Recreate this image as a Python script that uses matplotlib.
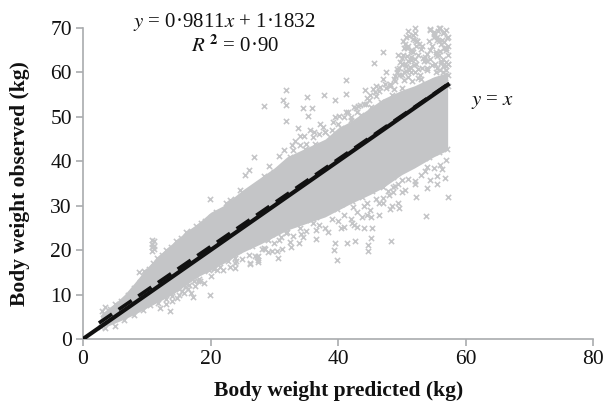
import matplotlib
matplotlib.use("Agg")
import matplotlib.pyplot as plt

plt.rcParams['font.family'] = ['Liberation Serif', 'DejaVu Serif']
plt.rcParams['mathtext.fontset'] = 'stix'

# dense part of the cloud: envelope
core_x  = [2.8, 4, 5, 6.5, 8, 10, 12, 14, 16, 18, 20, 22, 25, 28, 30, 32, 35, 38, 40, 42, 45, 47, 50, 52, 55, 57.2]
core_lo = [2.8, 3, 3.6, 4.5, 5.5, 7, 8.5, 10, 12, 14, 15.5, 17, 19.5, 21.5, 23, 24.5, 26, 27.5, 29, 30.5, 32.5, 34, 37, 38.5, 41, 42.5]
core_hi = [5.5, 7, 8, 10, 12.5, 16, 19, 21.5, 24, 26, 28.5, 30, 33.5, 36.5, 38.5, 41, 43, 45, 47.5, 49, 52, 54, 56, 57, 59, 60]

# individually visible crosses (edges of the cloud and outliers)
pts_x = [28.4,31.8,31.4,31.9,35.2,37.8,34.5,35.9,41.3,41.3,39.5,47.1,45.6,31.9,33.7,35.3,
         57.3,53.8,55.5,54,56,52.3,52.1,53.6,49.5,48.1,49.4,48.6,48.3,45.1,44.7,44.7,42.7,41.4,39.5,39.4,39.9,
         33.9,32.6,31.2,30.6,28.5,29.6,27.3,27.4,26.2,45.3,44,43,42.2,41,45.1,43.7,44.5,42.4,46.5,36.5,34.2,31.8,30.7,29,
         8.8,10.9,10.9,10.9,10.9,11.2,11.2,11.2,19.9,17.2,13.6,26.2,27.5,27.5,28.4,23.8,23.8,21.5,20.6,19.4,21.7,23.9,19.9,
         2.9,3,3.1,3.2,3.3,3,3.4,4.2,5,6,7,8,9,9.5,10.3,11,11.6,12.4,13,13.8,14.6,15.4,16.2,17,17.8,18.5,19.2,20,20.8,21.6,22.4,23,23.8,
         24.6,25.4,26,26.8,27.6,28.4,29.2,30,30.8,31.6,32.4,33.2,34,34.8,35.6,36.4,37.2,38,38.8,39.6,40.4,41.2,42,42.8,43.6,44.4,45.2,46,46.8,47.6,48.2,
         48.8,49.2,49.6,50,50.2,50.6,51,51.4,51.8,52,52.4,53,53.6,54,54.4,55,55.4,55.8,56.2,56.6,57,57.2,57.2,57.2,57.2,
         3.5,5,6.5,8,9.4,10.5,11.8,13,14,15,15.8,16.6,17.4,18.2,19,19.8,20.6,21.4,22,22.8,23.6,24.4,25,25.8,26.5,27.2,28,28.8,29.6,30.4,31,31.8,32.6,33.4,34.2,35,35.8,36.6,37.4,38.2,39,39.8,40.6,41.4,42.2,43,43.8,44.6,45.4,46.2,47,47.8,48.6,49.4,50.2,51,51.8,52.6,53.4,54.2,55,55.8,56.6,57.1,
         50.5,51,51.6,52,54.5,55,55.6,56,56.5,57,50,49.4,48.6,47.8,47,55,55.6,56.3,57,56.8,54.4,54,53.6,14.7,15.6,16.4,17.6,18.4]
pts_y = [52.5,56.1,53.8,52.7,54.4,54.9,52.1,52.1,58.3,55.2,53.8,64.6,62.1,49.1,47.4,50.1,
         32,27.6,35,34,39.2,32,35,37.9,29.4,29.3,30.7,33,22.1,22.7,21.2,19.7,22,21.6,21.6,20.1,17.8,
         21.6,20.6,20.3,18.2,20.3,19.7,18.5,17.4,17,25,25,25.3,26,25.2,27.5,27.5,30.6,29.8,30.7,24.5,23.6,23.8,22.3,22.3,
         15,19.8,20.6,21.4,22.3,20.2,21,22,10,9.5,6.3,16.8,17.8,18.7,20.4,15.9,17.1,16.3,15.8,16.3,19.2,18.3,31.5,
         2.8,3.4,4,4.8,5.6,6.4,7.3,6.8,7.8,8.6,9.8,11.4,12.8,15.3,15.8,17,18.2,18.9,20.1,20.7,22,22.7,24,24.3,25.4,26.2,26.5,27.5,28.6,28.3,30.5,31.2,31.5,
         33.6,37,38,41,34.8,36.6,39,37.5,41.2,42.5,41,44.5,45.8,42.8,47,44,48.5,46.7,45.5,50,47.6,51,49.3,52,50.4,52.8,52.2,54.7,53.4,56.5,57,
         58.6,60.8,59.5,62,64,61.5,66,63.4,68.5,70,67,65.2,63.5,61,69.5,68,64.2,70,66.4,69,65.5,68,62,59.5,57,
         2.4,3,4.2,5.5,6.5,7.6,8.2,8.9,9.7,11.2,10.3,12.2,13,13.4,15.2,15.5,16,17.4,18.2,17.6,19.3,20,20.5,21.5,21,22.2,23.5,22.6,23.7,24.1,25.1,25,26,25.8,26.6,26.8,28.2,27.5,28.2,28.8,29.5,29.2,30.4,31.5,31,32.5,32,33.8,33.4,34.8,34.3,36,36.5,38,38.4,39.2,40.5,40,41.2,41,42.6,42,43.2,42.8,
         66.5,69.4,64.8,67.2,69.8,68.6,67.2,70,68.8,69.6,35.8,35,34.2,33.2,31.8,38.6,36.6,38.2,40.4,36.2,35.8,38.8,40.8,9.3,10.8,11.2,12,13]

# more crosses read from the upper right and the lower flank of the cloud
more_x = [48.5,49,49.5,50,50.5,51,51.5,52,52.5,53,53.5,54,54.5,55,55.5,56,56.5,57,
          48,48.8,49.6,50.4,51.2,52,52.8,53.6,54.4,55.2,56,56.8,57.2,
          49.2,50,50.8,51.6,52.4,53.2,54,54.8,55.6,56.4,57.2,
          50.2,51,51.8,52.6,55.1,55.9,56.7,57.2,50.6,51.4,52.2,55.5,56.3,57,
          44,45,46,47,43,44.5,45.5,46.5,47.5,42,43.5,41,42.5,40,39,38,37,36,35,34,33,
          30,31,32,33,34,35,36,37,38,39,40,41,42,43,44,45,46,47,48,49,50,51,52,53,
          30.5,32.5,34.5,36.5,38.5,40.5,42.5,44.5,46.5,48.5,50.5,
          26,27,28,29,24,25,22,23,15,16,17,18,19,20,21,12,13,14,
          48.2,48.9,49.7,50.3,50.9,51.3,51.7,52.3,52.7,53.1,53.9,54.2,54.7,55.3,55.8,56.2,56.9,57.1,
          49.4,50.1,50.7,51.1,51.9,52.5,53.4,55.4,56.1,56.6,57,50.4,51.5,52.1,55.7,56.4,
          47.4,46.6,45.8,44.8,44.2,43.2,41.6,40.2,39.2,37.6,36.2,34.6,32.8]
more_y = [55,58,61,56.5,62,59,65,60,64,58.5,62.5,60.5,63,58,61,60.5,63,61.5,
          53,56.2,54.5,58.3,60.5,63,59.5,57.5,65,62,64.8,58.8,62,
          60,63.2,65.5,58,67,66,62.5,66,68,60,64,
          67,62.6,64.6,60.8,69,64,66.8,66,68,60,66,63.6,67.4,62.4,
          53,55,57,58.5,51,54.2,56.2,55.8,60,50,52.6,50,52.2,48.5,47,46.5,46.2,45.5,44,43.6,42.5,
          21.5,23,24,23.2,25,24.3,26,25.6,25,27,26.5,28,27,28.5,30,29,31.5,30.5,32.5,34.5,33,36,35.5,37,
          19.8,21.8,23,22.6,24,25,25.6,28,27.8,30,33.5,
          19,18.7,20.2,19.5,17.5,18,15.5,16.2,9.8,11.8,10.4,13,12.6,14.2,15.6,7,7.8,8.5,
          57.4,59.2,62.4,60,63.8,61.2,67.6,62,66.4,61,64.2,67,61.6,64.6,67,62.2,65,67.8,
          64,59.4,60.4,68.2,61.6,58.8,63.2,60.2,62.6,65.4,60.6,65.6,62.8,68.8,69.4,61.4,
          57.4,56.8,55.6,53.8,56,52.4,51,50.2,48.8,47.8,46.6,45.6,43.6]

# fitted line and line of equality
fit_x = [2.5, 57.2]
fit_y = [3.6, 57.3]
eq_x = [0, 57.5]
eq_y = [0, 57.5]

x_ticks = [0, 20, 40, 60, 80]
y_ticks = [0, 10, 20, 30, 40, 50, 60, 70]

GREY = '#a9abae'
CLOUD = '#c4c5c7'

fig = plt.figure(figsize=(6.05, 4.03), dpi=100)
ax = fig.add_axes([83/605, 1-339/403, (593-83)/605, (339-28)/403])
ax.set_xlim(0, 80)
ax.set_ylim(0, 70)

ax.fill_between(core_x, core_lo, core_hi, color=CLOUD, lw=0, zorder=2)
ax.scatter(pts_x + more_x, pts_y + more_y, marker='x', s=14, linewidths=1.15, color=CLOUD, zorder=2, clip_on=False)
ax.plot(fit_x, fit_y, color='#111111', lw=2.6, dashes=(4.4, 2.2), zorder=3, solid_capstyle='butt')
ax.plot(eq_x, eq_y, color='#111111', lw=3.0, zorder=4, solid_capstyle='butt')

for s in ('top', 'right'):
    ax.spines[s].set_visible(False)
for s in ('left', 'bottom'):
    ax.spines[s].set_color(GREY)
    ax.spines[s].set_linewidth(1.2)
ax.set_xticks(x_ticks)
ax.set_yticks(y_ticks)
ax.tick_params(length=5, width=1.2, color=GREY, labelsize=15.5, labelcolor='#111111', pad=3)

fig.text(339/605, 1-396/403, 'Body weight predicted (kg)', ha='center', va='baseline',
         fontweight='bold', fontsize=15.5, color='#111111')
fig.text(20.5/605, 1-184/403, 'Body weight observed (kg)', ha='center', va='center', rotation=90,
         fontweight='bold', fontsize=15.5, color='#111111')
fig.text(224/605, 1-27/403, r'$y$ = 0·9811$x$ + 1·1832', ha='center', va='baseline', fontsize=15, color='#111111')
fig.text(235/605, 1-52/403, r'$R$ $^{\mathbf{2}}$ = 0·90', ha='center', va='baseline', fontsize=15, color='#111111')
fig.text(471/605, 1-105/403, r'$y$ = $x$', ha='left', va='baseline', fontsize=15, color='#111111')

fig.savefig('out.png', dpi=100)
